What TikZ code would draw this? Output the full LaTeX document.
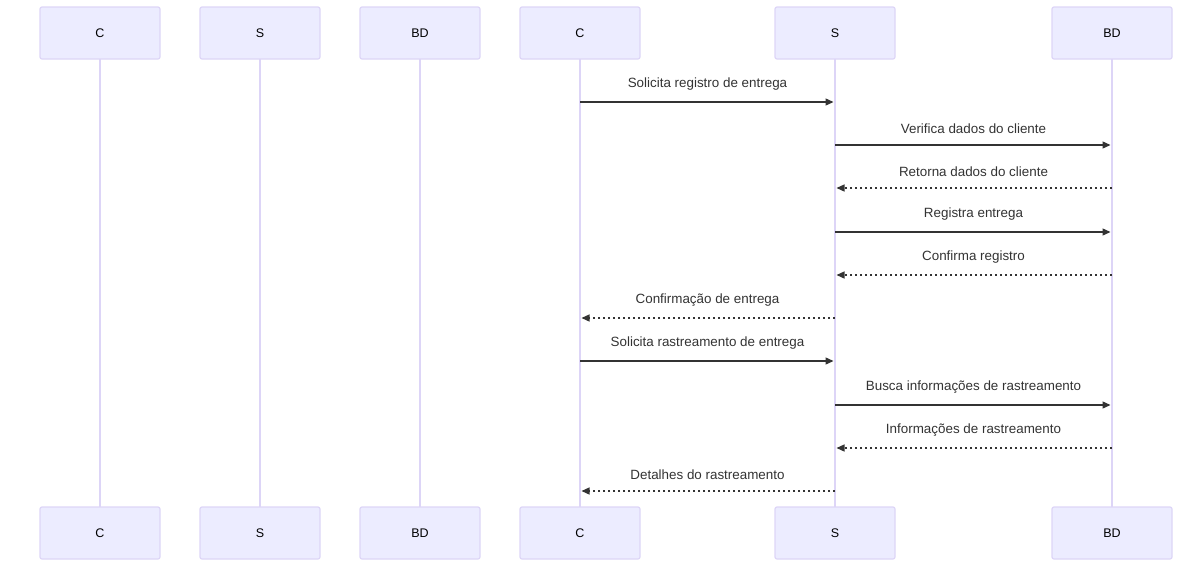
\documentclass[tikz,border=0pt]{standalone}
\usepackage{fontspec}
\setmainfont{Liberation Sans}
\usetikzlibrary{arrows.meta}
\definecolor{actfill}{HTML}{ECECFF}
\definecolor{actdraw}{HTML}{DDD5F7}
\definecolor{lifec}{HTML}{DDD5F7}
\definecolor{msgc}{HTML}{333333}
\tikzset{
  actor/.style={draw=actdraw, fill=actfill, line width=1.2pt, rounded corners=2pt,
    minimum width=120pt, minimum height=52pt, inner sep=0pt, font=\fontsize{12.5}{14}\selectfont},
  life/.style={draw=lifec, line width=2pt},
  msg/.style={draw=msgc, line width=1.3pt, -{Triangle[length=8pt,width=7pt]}, shorten >=1.5pt},
  reply/.style={msg, dash pattern=on 2.5pt off 2.5pt},
  lbl/.style={font=\fontsize{13.4}{15}\selectfont, text=msgc, inner sep=0pt},
}
\begin{document}
\begin{tikzpicture}[x=1pt,y=-1pt]
\useasboundingbox (0,0) rectangle (1200,571);
% lifelines first
\foreach \n/\x in {a/100,b/260,c/420,d/580,e/835,f/1112}{
  \coordinate (\n top) at (\x,59);
  \coordinate (\n bot) at (\x,507);
  \draw[life] (\n top) -- (\n bot);
}
% actor boxes
\foreach \n/\x/\t in {a/100/C,b/260/S,c/420/BD,d/580/C,e/835/S,f/1112/BD}{
  \node[actor] (\n1) at (\x,33) {\t};
  \node[actor] (\n2) at (\x,533) {\t};
}
% message anchor points
\foreach \y in {102,145,188,232,275,318,361,405,448,491}{
  \coordinate (d\y) at (580,\y);
  \coordinate (e\y) at (835,\y);
  \coordinate (f\y) at (1112,\y);
}
\draw[msg] (d102) -- (e102) node[lbl, midway, above=11pt] {Solicita registro de entrega};
\draw[msg] (e145) -- (f145) node[lbl, midway, above=11pt] {Verifica dados do cliente};
\draw[reply] (f188) -- (e188) node[lbl, midway, above=11pt] {Retorna dados do cliente};
\draw[msg] (e232) -- (f232) node[lbl, midway, above=11pt] {Registra entrega};
\draw[reply] (f275) -- (e275) node[lbl, midway, above=11pt] {Confirma registro};
\draw[reply] (e318) -- (d318) node[lbl, midway, above=11pt] {Confirmação de entrega};
\draw[msg] (d361) -- (e361) node[lbl, midway, above=11pt] {Solicita rastreamento de entrega};
\draw[msg] (e405) -- (f405) node[lbl, midway, above=11pt] {Busca informações de rastreamento};
\draw[reply] (f448) -- (e448) node[lbl, midway, above=11pt] {Informações de rastreamento};
\draw[reply] (e491) -- (d491) node[lbl, midway, above=11pt] {Detalhes do rastreamento};
\end{tikzpicture}
\end{document}
